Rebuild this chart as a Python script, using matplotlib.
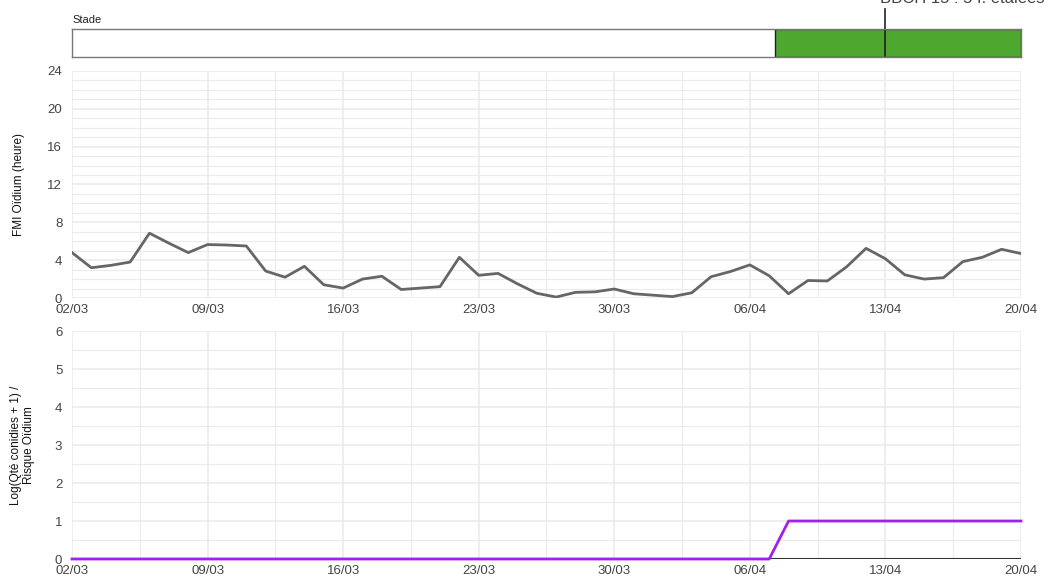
import matplotlib
matplotlib.use("Agg")
import matplotlib.pyplot as plt
import matplotlib.dates as mdates
import numpy as np
import pandas as pd

plt.rcParams['font.family'] = ['Liberation Sans', 'DejaVu Sans']

# daily values, 02/03 -> 20/04
dates = pd.date_range("2023-03-02", "2023-04-20", freq="D")
fmi = [4.8, 3.2, 3.45, 3.8, 6.85, 5.8, 4.8, 5.65, 5.6, 5.5,
       2.85, 2.2, 3.35, 1.4, 1.05, 2.0, 2.3, 0.9, 1.05, 1.2,
       4.3, 2.4, 2.6, 1.5, 0.5, 0.1, 0.6, 0.65, 0.95, 0.45,
       0.3, 0.15, 0.55, 2.25, 2.8, 3.5, 2.35, 0.45, 1.85, 1.8,
       3.3, 5.25, 4.15, 2.45, 2.0, 2.15, 3.85, 4.3, 5.15, 4.7]
risque = [0] * 37 + [1] * 13

stade_start = pd.Timestamp("2023-04-07 07:00")
stade_marker = pd.Timestamp("2023-04-13")
stade_label = "BBCH 15 : 5 f. étalées"

xmin, xmax = dates[0], dates[-1]
major_ticks = pd.date_range(xmin, xmax, freq="7D")
minor_ticks = major_ticks[:-1] + pd.Timedelta(hours=84)

fig = plt.figure(figsize=(10.59, 5.80), dpi=100)

# --- stade bar
axs = fig.add_axes([0.068, 0.9017, 0.8961, 0.0483])
axs.set_xlim(xmin, xmax)
axs.set_ylim(0, 1)
axs.barh(0.5, stade_start - xmin, left=xmin, height=1, color="white")
axs.barh(0.5, xmax - stade_start, left=stade_start, height=1,
         color="#4ea72e", edgecolor="#222222", linewidth=1)
axs.axvline(stade_marker, ymin=0.05, ymax=1.7, color="#222222", lw=1.2, clip_on=False)
for s in axs.spines.values():
    s.set_color("#777777")
    s.set_linewidth(1)
axs.set_xticks([])
axs.set_yticks([])
axs.text(0.0, 1.2, "Stade", transform=axs.transAxes, fontsize=8, color="#222222")
fig.text(880 / 1059, 1 - 3 / 580, stade_label, fontsize=12, color="#444444", va="baseline")


def style(ax, ymax, ymajor, yminor):
    ax.set_xlim(xmin, xmax)
    ax.set_ylim(0, ymax)
    ax.set_xticks(major_ticks)
    ax.set_xticks(minor_ticks, minor=True)
    ax.xaxis.set_major_formatter(mdates.DateFormatter("%d/%m"))
    ax.set_yticks(np.arange(0, ymax + 0.01, ymajor))
    ax.set_yticks(np.arange(0, ymax + 0.01, yminor), minor=True)
    ax.grid(True, which="major", color="#ebebeb", lw=1.2)
    ax.grid(True, which="minor", color="#ebebeb", lw=0.8)
    ax.set_axisbelow(True)
    for s in ax.spines.values():
        s.set_visible(False)
    ax.tick_params(which="both", length=0, labelsize=9.5, colors="#444444")
    ax.tick_params(axis="x", pad=4)
    ax.tick_params(axis="y", pad=7)


# --- FMI
ax1 = fig.add_axes([0.068, 0.4862, 0.8961, 0.3914])
style(ax1, 24, 4, 1)
ax1.plot(dates, fmi, color="#666666", lw=2)
ax1.set_ylabel("FMI Oïdium (heure)", fontsize=8.5, color="#111111", labelpad=16)

# --- risque
ax2 = fig.add_axes([0.068, 0.0362, 0.8961, 0.3931])
style(ax2, 6, 1, 0.5)
ax2.axhline(0, color="#333333", lw=1.5)
ax2.plot(dates, risque, color="#a020f0", lw=2, clip_on=False)
ax2.set_ylabel("Log(Qté conidies + 1) /\nRisque Oïdium", fontsize=8.5, color="#111111",
               labelpad=14)

fig.savefig("out.png", dpi=100)
